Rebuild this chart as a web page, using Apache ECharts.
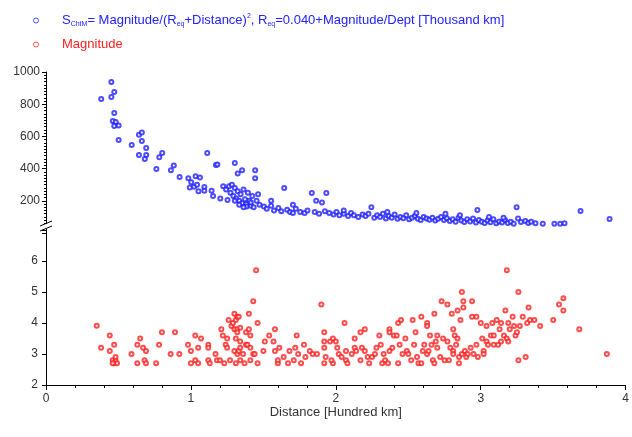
<!DOCTYPE html>
<html><head><meta charset="utf-8">
<script src="https://cdn.jsdelivr.net/npm/echarts@6/dist/echarts.min.js"></script>
<style>html,body{margin:0;padding:0;background:#fff}#c{width:632px;height:437px}</style>
</head><body><div id="c"></div>
<script>
// S_ChtM series (distance, value)
const sPoints = [
[0.38,832],[0.45,938],[0.45,845],[0.47,876],[0.47,745],[0.46,696],[0.48,690],[0.47,665],[0.50,668],[0.50,578],
[0.59,547],[0.64,610],[0.66,625],[0.66,571],[0.69,528],[0.64,485],[0.69,485],[0.68,460],[0.80,497],[0.78,470],
[0.76,398],[0.86,390],[0.88,420],[0.92,348],[0.98,340],[1.03,352],[1.06,345],[0.99,282],[1.02,288],[1.05,260],
[1.00,315],[1.04,300],[1.09,285],[1.09,262],[1.14,262],[1.11,497],[1.17,422],[1.18,425],[1.30,435],[1.32,370],
[1.35,390],[1.44,390],[1.44,340],[1.22,290],[1.24,270],[1.26,290],[1.27,250],[1.28,300],[1.29,230],[1.30,280],
[1.31,215],[1.32,260],[1.33,200],[1.34,240],[1.35,185],[1.36,270],[1.37,210],[1.38,180],[1.39,250],[1.40,200],
[1.41,170],[1.42,230],[1.43,160],[1.45,200],[1.46,240],[1.20,215],[1.25,205],[1.33,175],[1.38,165],[1.41,190],
[1.36,160],[1.30,200],[1.47,175],[1.50,165],[1.52,150],[1.55,170],[1.57,140],[1.60,155],[1.62,135],[1.64,280],
[1.66,145],[1.68,130],[1.70,125],[1.72,150],[1.75,130],[1.78,125],[1.80,140],[1.83,248],[1.86,200],[1.90,190],
[1.93,248],[1.85,130],[1.88,120],[1.92,135],[1.95,125],[1.98,115],[2.00,130],[2.02,110],[2.05,120],[2.08,105],
[2.10,125],[2.12,110],[2.15,100],[2.18,115],[2.20,105],[2.22,120],[2.24,160],[2.26,95],[2.28,110],[2.30,100],
[2.32,120],[2.34,90],[2.36,105],[2.38,95],[2.40,115],[2.42,88],[2.44,100],[2.46,92],[2.48,110],[2.50,85],
[2.52,95],[2.54,105],[2.56,88],[2.58,80],[2.60,100],[2.62,90],[2.64,82],[2.66,95],[2.68,78],[2.70,88],
[2.72,100],[2.74,80],[2.76,92],[2.78,75],[2.80,85],[2.82,70],[2.84,95],[2.86,78],[2.88,68],[2.90,85],
[2.92,72],[2.94,90],[2.96,65],[2.97,143],[2.98,80],[3.00,70],[3.02,62],[3.04,78],[3.06,66],[3.08,85],
[3.10,60],[3.12,72],[3.14,65],[3.16,80],[3.18,62],[3.20,70],[3.22,58],[3.24,160],[3.25,90],[3.27,68],
[3.30,75],[3.32,62],[3.34,70],[3.37,60],[3.42,58],[3.50,58],[3.54,58],[3.57,60],[3.68,137],[3.88,87],
[1.55,200],[1.70,175],[2.05,140],[2.35,130],[2.55,125],[2.75,120],[2.85,110],[3.05,100],[3.15,95],[1.15,230]
];
// Magnitude series (distance, value)
const magPoints = [
[0.35,3.91],[0.38,3.2],[0.44,3.6],[0.44,3.1],[0.47,3.3],[0.46,2.8],[0.48,2.8],[0.47,2.7],[0.49,2.7],[0.46,2.7],[0.48,2.9],
[0.59,3.0],[0.63,3.3],[0.65,3.5],[0.63,2.7],[0.67,3.2],[0.69,3.1],[0.68,2.8],[0.69,2.7],[0.76,2.7],[0.78,3.3],[0.80,3.7],
[0.86,3.0],[0.89,3.7],[0.92,3.0],[0.98,3.3],[1.00,3.1],[1.00,2.7],[1.03,2.8],[1.03,3.6],[1.05,3.2],[1.05,2.7],[1.07,3.5],
[1.12,3.3],[1.12,3.2],[1.12,2.8],[1.13,2.7],[1.17,3.0],[1.18,2.8],[1.20,2.8],[1.21,3.8],[1.22,3.6],[1.23,2.7],[1.24,3.3],
[1.25,3.5],[1.25,3.2],[1.26,4.1],[1.28,3.9],[1.29,4.0],[1.30,4.3],[1.31,4.1],[1.32,4.2],[1.33,4.2],[1.30,3.8],[1.32,3.8],
[1.34,3.85],[1.31,3.5],[1.32,3.7],[1.34,3.4],[1.30,3.1],[1.32,3.0],[1.33,3.1],[1.34,3.2],[1.27,2.8],[1.31,2.7],[1.34,2.8],
[1.37,2.7],[1.36,3.0],[1.38,3.3],[1.38,3.7],[1.40,4.3],[1.40,3.8],[1.41,3.6],[1.43,4.7],[1.45,5.7],[1.46,4.0],[1.43,3.0],
[1.44,3.0],[1.39,3.3],[1.41,3.2],[1.41,2.8],[1.46,2.7],[1.51,3.4],[1.50,3.1],[1.54,3.6],[1.57,3.4],[1.58,3.8],[1.58,3.1],
[1.60,2.7],[1.60,2.8],[1.61,3.2],[1.64,2.9],[1.67,2.7],[1.68,3.1],[1.71,2.8],[1.72,3.2],[1.73,3.6],[1.74,3.0],[1.76,2.7],
[1.78,3.3],[1.79,2.9],[1.82,3.1],[1.84,3.0],[1.87,3.0],[1.90,4.6],[1.92,3.7],[1.92,3.4],[1.92,3.2],[1.92,2.7],[1.93,2.9],
[1.96,3.4],[1.98,2.7],[1.98,3.5],[1.97,2.8],[2.00,3.4],[2.01,3.2],[2.02,3.0],[2.04,2.9],[2.06,4.0],[2.07,3.1],[2.07,2.8],
[2.08,2.7],[2.11,3.0],[2.13,3.5],[2.13,3.2],[2.14,3.1],[2.17,3.7],[2.17,2.8],[2.20,3.8],[2.18,3.2],[2.20,3.1],[2.22,2.9],
[2.23,2.7],[2.25,2.9],[2.27,3.0],[2.28,3.2],[2.30,3.6],[2.31,3.3],[2.32,2.7],[2.33,3.0],[2.34,2.8],[2.36,2.7],[2.37,3.1],
[2.37,3.8],[2.37,3.7],[2.39,3.2],[2.40,3.6],[2.42,3.6],[2.43,4.0],[2.43,2.7],[2.44,3.3],[2.45,4.1],[2.46,3.0],[2.48,3.5],
[2.49,3.1],[2.50,3.0],[2.52,2.8],[2.53,4.1],[2.54,3.3],[2.55,3.7],[2.56,2.9],[2.57,2.7],[2.59,4.2],[2.59,2.7],[2.60,3.1],
[2.61,3.3],[2.63,4.0],[2.63,3.9],[2.63,3.0],[2.64,3.1],[2.65,3.6],[2.66,3.3],[2.67,2.8],[2.68,2.7],[2.68,4.3],[2.69,3.4],
[2.70,3.6],[2.70,3.2],[2.72,2.9],[2.73,4.7],[2.74,3.5],[2.75,2.8],[2.77,4.6],[2.77,3.4],[2.78,2.8],[2.79,3.2],[2.80,4.3],
[2.81,3.8],[2.81,3.1],[2.81,3.0],[2.82,3.6],[2.83,3.3],[2.84,3.5],[2.84,4.4],[2.85,2.9],[2.85,2.7],[2.86,4.1],[2.87,3.0],
[2.87,5.0],[2.88,4.7],[2.88,4.5],[2.89,3.1],[2.90,2.9],[2.91,3.0],[2.93,3.2],[2.94,4.7],[2.94,4.2],[2.95,3.0],[2.97,3.3],
[2.97,4.2],[2.98,2.9],[3.00,4.0],[3.01,3.5],[3.02,3.1],[3.02,3.0],[3.04,3.9],[3.04,3.4],[3.05,3.3],[3.07,3.6],[3.08,4.0],
[3.09,3.3],[3.09,3.6],[3.11,4.1],[3.12,3.3],[3.13,3.8],[3.14,4.0],[3.14,3.4],[3.16,3.6],[3.17,4.4],[3.18,5.7],[3.18,3.5],
[3.19,4.0],[3.19,3.4],[3.20,3.8],[3.22,4.2],[3.23,3.9],[3.24,3.6],[3.25,3.7],[3.26,5.0],[3.26,2.8],[3.27,3.9],[3.29,4.2],
[3.31,2.9],[3.32,4.0],[3.33,4.5],[3.34,4.1],[3.37,4.1],[3.41,3.9],[3.50,4.1],[3.54,4.6],[3.57,4.8],[3.57,4.4],[3.68,3.8],
[3.87,3.0]
];
const xTicks = [0,1,2,3,4];

const font = 'Liberation Sans, Arial, sans-serif';
const axisCol = '#000';
const chart = echarts.init(document.getElementById('c'));
const lbl = {color:'#333', fontFamily:font, fontSize:12};
chart.setOption({
  animation:false,
  legend:{
    orient:'vertical', left:28, top:8, itemGap:10, itemWidth:6, itemHeight:5,
    selectedMode:false,
    data:[
      {name:'S', icon:'circle', itemStyle:{color:'#fff',borderColor:'#2020ff',borderWidth:1}, textStyle:{color:'#2222ff'}},
      {name:'Magnitude', icon:'circle', itemStyle:{color:'#fff',borderColor:'#ff2020',borderWidth:1}, textStyle:{color:'#ff2020'}}
    ],
    formatter: n => n==='S' ? '{m|S}{s|ChtM}{m|= Magnitude/(R}{s|eq}{m|+Distance)}{p|2}{m|, R}{s|eq}{m|=0.040+Magnitude/Dept [Thousand km]}' : n,
    textStyle:{fontFamily:font, fontSize:13, padding:[0,0,0,18],
      rich:{m:{color:'#2222ff',fontSize:13,fontFamily:font},
            s:{color:'#2222ff',fontSize:7,fontFamily:font,verticalAlign:'bottom',padding:[8,0,0,0]},
            p:{color:'#2222ff',fontSize:7,fontFamily:font,verticalAlign:'top',padding:[0,0,8,0]}}}
  },
  grid:[
    {left:46, right:5, top:72, height:161},
    {left:46, right:5, top:230, height:155}
  ],
  xAxis:[
    {gridIndex:0, type:'value', min:0, max:4, interval:1, show:false},
    {gridIndex:1, type:'value', min:0, max:4, interval:1,
     name:'Distance [Hundred km]', nameLocation:'middle', nameGap:21,
     nameTextStyle:{color:'#333', fontFamily:font, fontSize:13},
     axisLine:{lineStyle:{color:axisCol}}, axisTick:{lineStyle:{color:axisCol}, length:5},
     minorTick:{show:true, splitNumber:5, length:3, lineStyle:{color:axisCol}},
     splitLine:{show:false}, axisLabel:Object.assign({margin:8},lbl)}
  ],
  yAxis:[
    {gridIndex:0, type:'value', min:0, max:1000, interval:200,
     axisLine:{show:true, lineStyle:{color:axisCol}}, axisTick:{show:true,lineStyle:{color:axisCol}, length:4},
     minorTick:{show:true, splitNumber:10, length:2, lineStyle:{color:axisCol}},
     splitLine:{show:false}, axisLabel:Object.assign({formatter:v=>v===0?'':v, margin:6},lbl)},
    {gridIndex:1, type:'value', min:2, max:7, interval:1,
     axisLine:{show:true, lineStyle:{color:axisCol}}, axisTick:{show:true,lineStyle:{color:axisCol}, length:4},
     splitLine:{show:false}, axisLabel:Object.assign({formatter:v=>v===7?'':v, margin:8},lbl)}
  ],
  graphic:[
    {type:'rect', shape:{x:40,y:224,width:12,height:5}, style:{fill:'#fff'}, z:100},
    {type:'line', shape:{x1:40,y1:226,x2:52,y2:221}, style:{stroke:'#000',lineWidth:1}, z:101},
    {type:'line', shape:{x1:40,y1:231,x2:52,y2:226}, style:{stroke:'#000',lineWidth:1}, z:101}
  ],
  series:[
    {name:'S', type:'scatter', xAxisIndex:0, yAxisIndex:0, data:sPoints,
     symbol:'emptyCircle', symbolSize:4, itemStyle:{color:'#2020ff', borderColor:'#2020ff', borderWidth:1}},
    {name:'Magnitude', type:'scatter', xAxisIndex:1, yAxisIndex:1, data:magPoints,
     symbol:'emptyCircle', symbolSize:4, itemStyle:{color:'#ff2020', borderColor:'#ff2020', borderWidth:1}}
  ]
});
</script></body></html>
